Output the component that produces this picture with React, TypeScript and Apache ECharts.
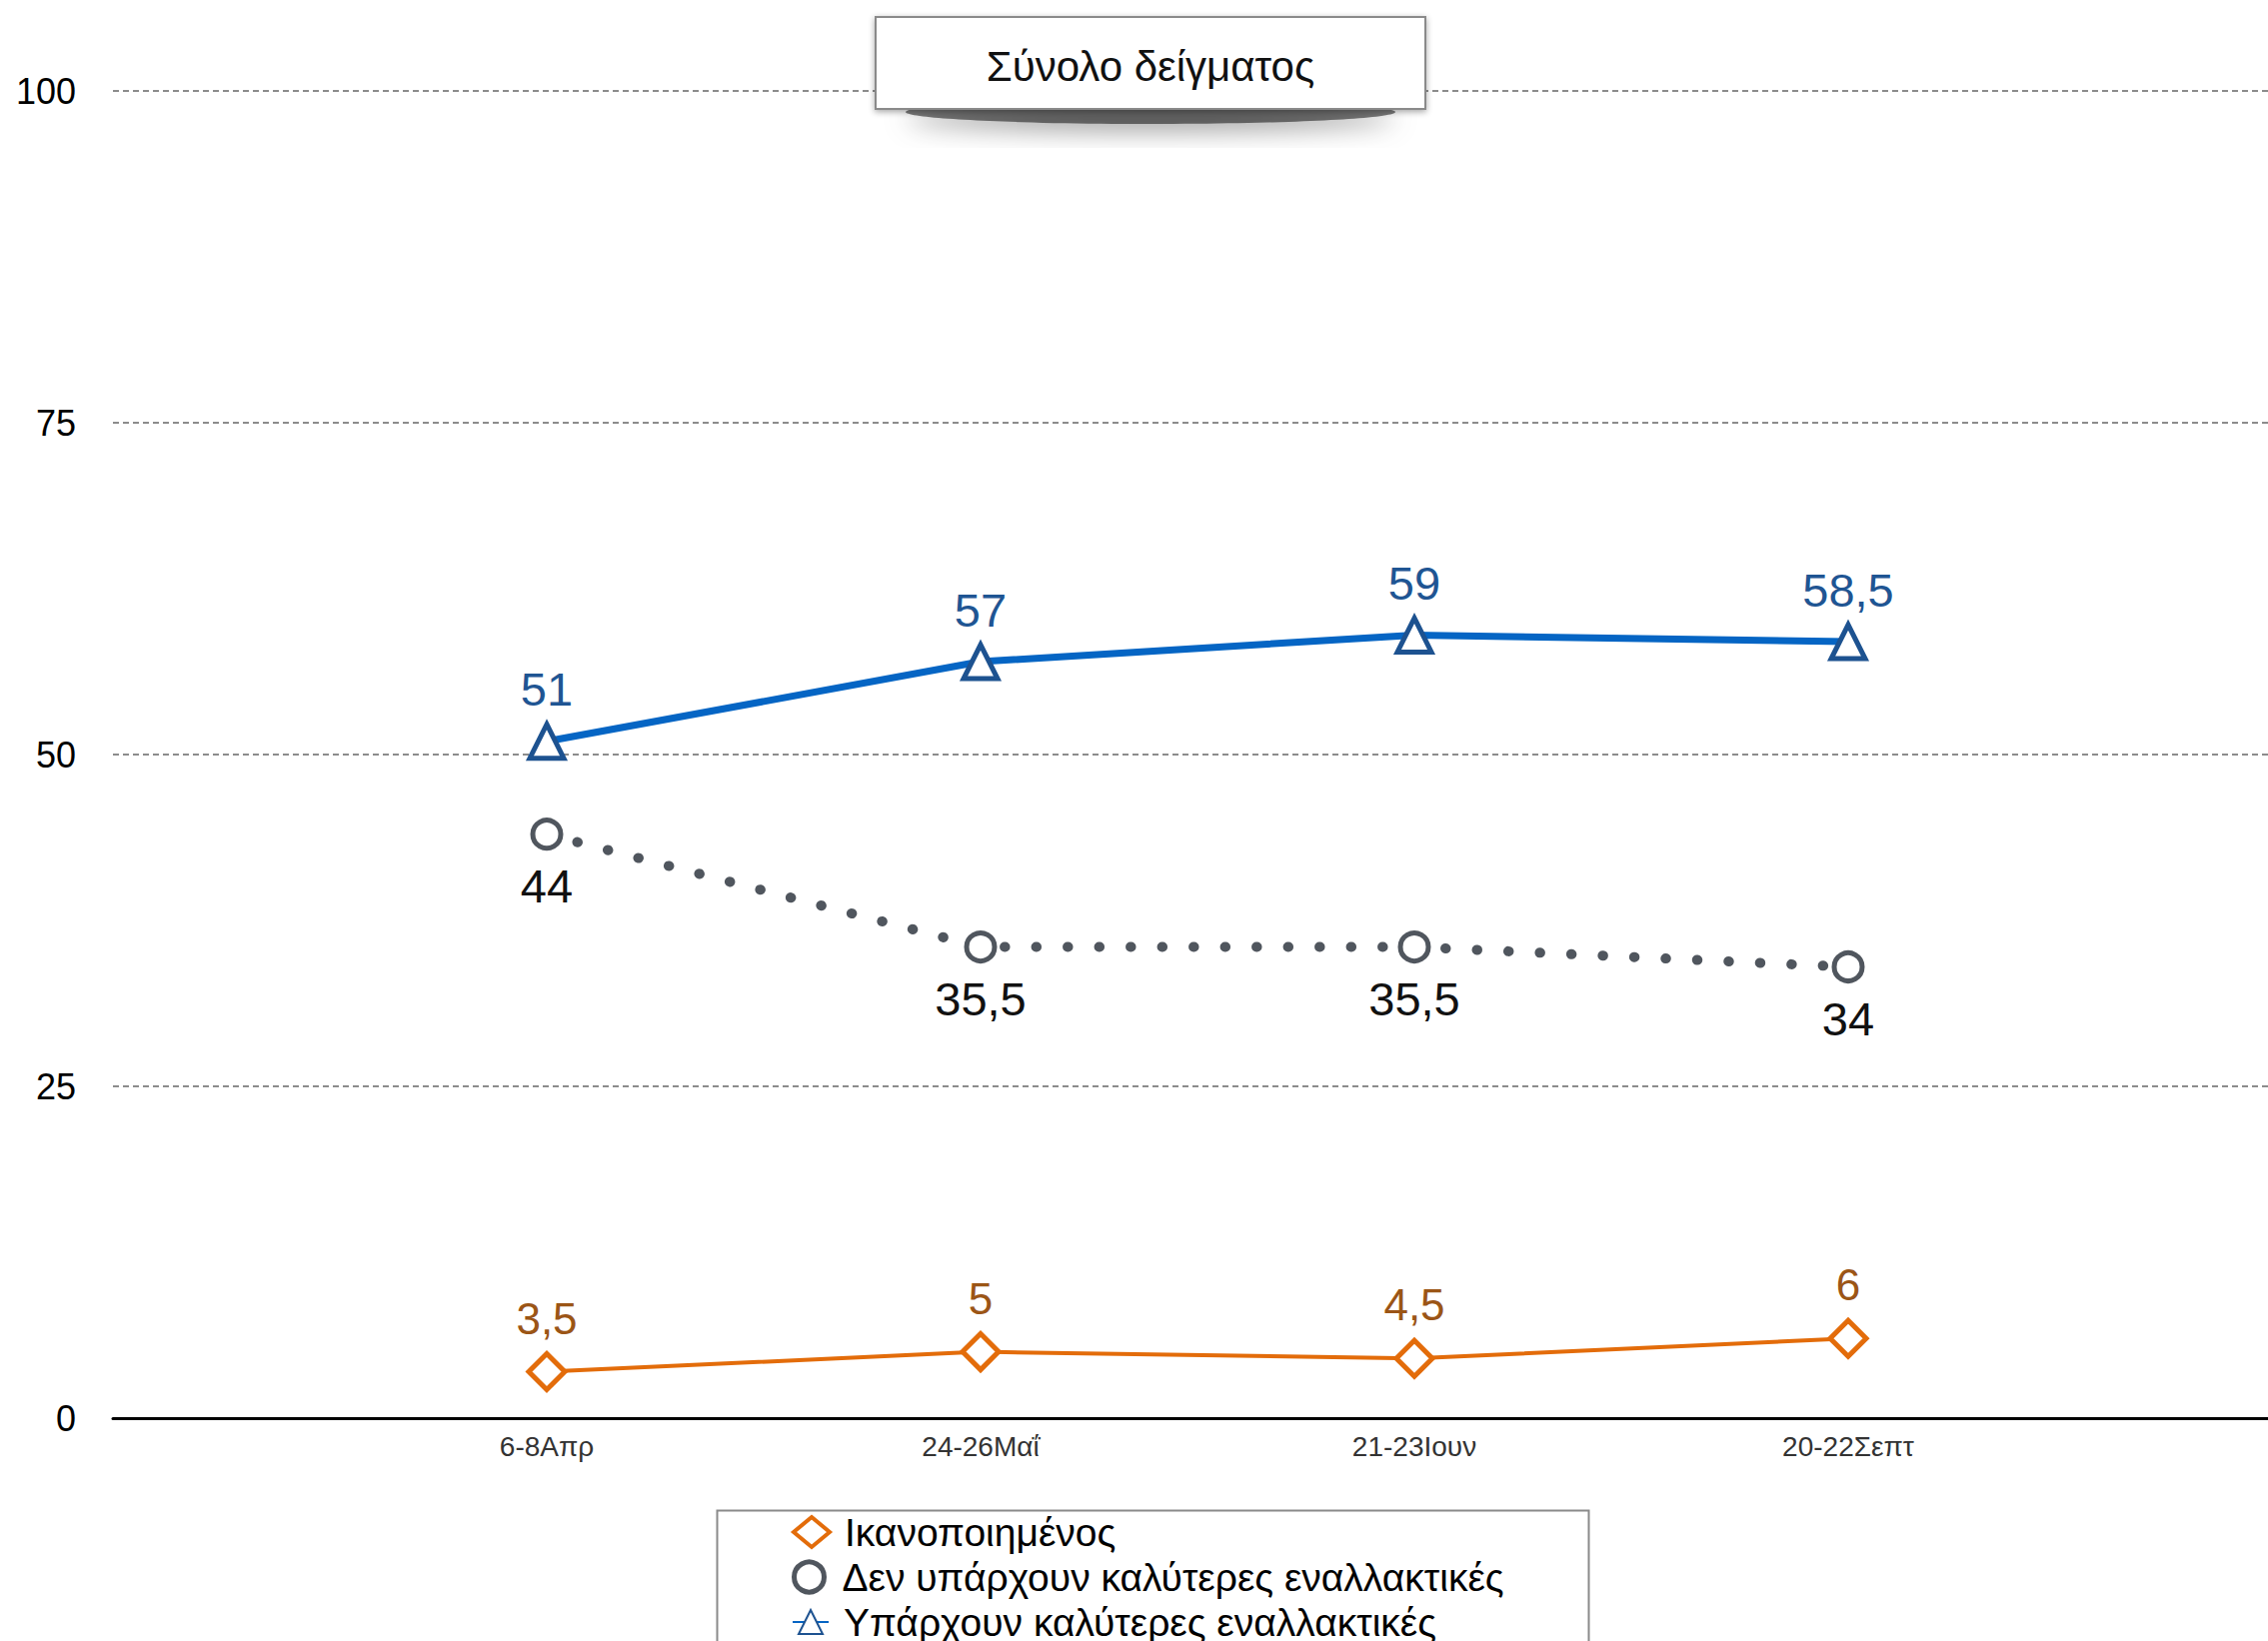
import React, { useEffect, useRef } from "react";
import * as echarts from "echarts";

const categories = ["6-8Απρ", "24-26Μαΐ", "21-23Ιουν", "20-22Σεπτ"];
const satisfied = [3.5, 5, 4.5, 6];
const noBetter = [44, 35.5, 35.5, 34];
const better = [51, 57, 59, 58.5];
const seriesNames = [
  "Ικανοποιημένος",
  "Δεν υπάρχουν καλύτερες εναλλακτικές",
  "Υπάρχουν καλύτερες εναλλακτικές",
];
const yMin = 0;
const yMax = 100;
const yInterval = 25;
const titleText = "Σύνολο δείγματος";

const FONT = "'Liberation Sans', Arial, Helvetica, sans-serif";

const pad = (arr: (number | string)[]) => ["-", ...arr, "-"];
const fmt = (p: any) => String(p.value).replace(".", ",");

export default function App() {
  const ref = useRef<HTMLDivElement>(null);
  useEffect(() => {
    if (!ref.current) return;
    const chart = echarts.init(ref.current, undefined, { renderer: "svg" });
    const orange = "#E36C0A";
    const gray = "#50565E";
    const blue = "#0565C4";
    const darkBlue = "#1D5290";
    const legendBase = {
      orient: "vertical",
      left: 787,
      itemWidth: 36,
      itemHeight: 30,
      textStyle: { fontSize: 39, color: "#000", fontFamily: FONT, lineHeight: 40, padding: [0, 0, 0, 10] },
    };
    chart.setOption({
      animation: false,
      backgroundColor: "#ffffff",
      grid: { left: 113, top: 91, width: 2170, height: 1328, outerBoundsMode: "none" },
      xAxis: {
        type: "category",
        boundaryGap: false,
        data: ["", ...categories, ""],
        axisLine: { show: true, lineStyle: { color: "#000", width: 3 } },
        axisTick: { show: false },
        axisLabel: { interval: 0, fontSize: 28, color: "#333", margin: 14, fontFamily: FONT },
        splitLine: { show: false },
      },
      yAxis: {
        type: "value",
        min: yMin,
        max: yMax,
        interval: yInterval,
        axisLine: { show: false },
        axisTick: { show: false },
        axisLabel: { fontSize: 36, color: "#000", margin: 37, fontFamily: FONT },
        splitLine: { show: true, lineStyle: { color: "#8c8c8c", width: 2, type: [6, 4] } },
      },
      legend: [
        {
          ...legendBase,
          top: 1508,
          data: [{ name: seriesNames[0], icon: "diamond", itemStyle: { color: "#fff", borderColor: orange, borderWidth: 4 } }],
        },
        {
          ...legendBase,
          top: 1553,
          data: [{ name: seriesNames[1], icon: "circle", itemStyle: { color: "#fff", borderColor: gray, borderWidth: 5 } }],
        },
        {
          ...legendBase,
          top: 1598,
          data: [{ name: seriesNames[2] }],
        },
      ],
      graphic: [
        {
          type: "rect",
          left: 715,
          top: 1509,
          shape: { width: 872, height: 200 },
          style: { fill: "none", stroke: "#8a8a8a", lineWidth: 2 },
          z: 1,
          silent: true,
        },
        {
          type: "ellipse",
          shape: { cx: 1151, cy: 112, rx: 245, ry: 12 },
          style: { fill: "rgba(0,0,0,0.5)", shadowBlur: 26, shadowColor: "rgba(0,0,0,0.8)", shadowOffsetY: 6 },
          z: 99,
          silent: true,
        },
        {
          type: "rect",
          shape: { x: 876, y: 17, width: 550, height: 92 },
          style: { fill: "#fff", stroke: "#8a8a8a", lineWidth: 2, shadowBlur: 6, shadowColor: "rgba(0,0,0,0.35)", shadowOffsetY: 2 },
          z: 100,
          silent: true,
        },
        {
          type: "text",
          x: 1151,
          y: 66,
          style: {
            text: titleText,
            fontSize: 42,
            fontFamily: FONT,
            fill: "#111",
            align: "center",
            verticalAlign: "middle",
          },
          z: 101,
          silent: true,
        },
      ],
      series: [
        {
          name: seriesNames[0],
          type: "line",
          data: pad(satisfied),
          symbol: "diamond",
          symbolSize: 36,
          lineStyle: { color: orange, width: 4 },
          itemStyle: { color: "#fff", borderColor: orange, borderWidth: 5 },
          label: {
            show: true,
            position: "top",
            distance: 11,
            formatter: fmt,
            fontSize: 44,
            color: "#9B5516",
            fontFamily: FONT,
          },
          z: 3,
        },
        {
          name: seriesNames[1],
          type: "line",
          data: pad(noBetter),
          symbol: "circle",
          symbolSize: 28,
          lineStyle: { color: gray, width: 10, type: [0.5, 31], cap: "round" },
          itemStyle: { color: "#fff", borderColor: gray, borderWidth: 5 },
          label: {
            show: true,
            position: "bottom",
            distance: 12,
            formatter: fmt,
            fontSize: 47,
            color: "#111",
            fontFamily: FONT,
          },
          z: 4,
        },
        {
          name: seriesNames[2],
          type: "line",
          data: pad(better),
          symbol: "triangle",
          symbolSize: 34,
          lineStyle: { color: blue, width: 7 },
          itemStyle: { color: "#fff", borderColor: darkBlue, borderWidth: 5 },
          label: {
            show: true,
            position: "top",
            distance: 9,
            formatter: fmt,
            fontSize: 47,
            color: "#1F5593",
            fontFamily: FONT,
          },
          z: 5,
        },
      ],
    });
    return () => chart.dispose();
  }, []);
  return (
    <div
      ref={ref}
      style={{ position: "fixed", left: 0, top: 0, width: 2269, height: 1642, background: "#fff" }}
    />
  );
}
